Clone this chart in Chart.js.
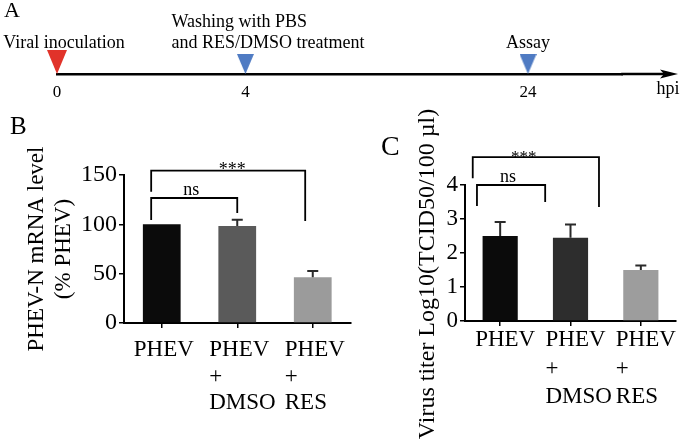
<!DOCTYPE html>
<html><head><meta charset="utf-8">
<script src="https://cdn.jsdelivr.net/npm/chart.js@4.4.0/dist/chart.umd.min.js"></script>
<style>
html,body{margin:0;padding:0;background:#fff;}
#wrap{position:relative;width:685px;height:443px;overflow:hidden;background:#fff;}
canvas{position:absolute;}
</style></head><body>
<div id="wrap">
<canvas id="cA" width="685" height="100" style="left:0;top:0;width:685px;height:100px"></canvas>
<canvas id="cB" width="360" height="343" style="left:0;top:100px;width:360px;height:343px"></canvas>
<canvas id="cC" width="325" height="343" style="left:360px;top:100px;width:325px;height:343px"></canvas>
</div>
<script>
const FONT = "'Liberation Serif','Times New Roman',serif";

// ---- Panel A: timeline ----
const timeLabels = ['0', '', '4', '', '', '24', ''];
const eventTimes = ['0', '4', '24'];
const eventNotes = [['Viral inoculation'], ['Washing with PBS', 'and RES/DMSO treatment'], ['Assay']];
const eventColors = ['#e1332a', '#4f7bc3', '#4f7bc3'];

// ---- Panel B: PHEV-N mRNA level ----
const categories = [['PHEV'], ['PHEV', '+', 'DMSO'], ['PHEV', '+', 'RES']];
const mrnaLevel = [100, 98.3, 46.4];
const mrnaError = [0, 6.3, 6.3];
const yTicksB = [0, 50, 100, 150];
const sigB = [
  {from: -0.14, to: 1.0, top: 126.7, leftEnd: 104.4, rightEnd: 111.5, label: 'ns', dx: -3},
  {from: -0.14, to: 1.9, top: 154.4, leftEnd: 133, rightEnd: 103.4, label: '***', dx: 4}
];

// ---- Panel C: virus titer ----
const titerLog = [2.5, 2.45, 1.5];
const titerError = [0.41, 0.39, 0.13];
const yTicksC = [0, 1, 2, 3, 4];
const sigC = [
  {from: -0.33, to: 0.64, top: 4.0, leftEnd: 3.38, rightEnd: 3.5, label: 'ns', dx: -3},
  {from: -0.39, to: 1.405, top: 4.82, leftEnd: 4.2, rightEnd: 3.35, label: '***', dx: -12}
];

function tri(color, w, h) {
  const c = document.createElement('canvas');
  c.width = w; c.height = 2 * h;
  const g = c.getContext('2d');
  g.fillStyle = color;
  g.beginPath(); g.moveTo(0, 0); g.lineTo(w, 0); g.lineTo(w / 2, h); g.closePath(); g.fill();
  return c;
}

const panelLabel = {
  id: 'panelLabel',
  afterDraw(chart, args, o) {
    const ctx = chart.ctx;
    ctx.save();
    ctx.font = o.font; ctx.fillStyle = '#000'; ctx.textAlign = 'left'; ctx.textBaseline = 'alphabetic';
    ctx.fillText(o.text, o.x, o.y);
    ctx.restore();
  }
};

const timeline = {
  id: 'timeline',
  afterDraw(chart, args, o) {
    const {ctx, chartArea} = chart;
    const y = chartArea.bottom;
    const tip = chart.width - 7;
    ctx.save();
    ctx.strokeStyle = '#000'; ctx.fillStyle = '#000'; ctx.lineWidth = 2.5;
    ctx.beginPath(); ctx.moveTo(chartArea.right - 1, y); ctx.lineTo(tip - 12, y); ctx.stroke();
    ctx.beginPath(); ctx.moveTo(tip, y); ctx.lineTo(tip - 18, y - 4.5); ctx.lineTo(tip - 14, y); ctx.lineTo(tip - 18, y + 4.5); ctx.closePath(); ctx.fill();
    ctx.font = o.font; ctx.textBaseline = 'middle'; ctx.textAlign = 'center';
    ctx.fillText('hpi', tip - 10, o.unitY);
    const meta = chart.getDatasetMeta(0);
    eventNotes.forEach((lines, i) => {
      const pt = meta.data[i];
      ctx.textAlign = o.align[i];
      const x = pt.x + o.dx[i];
      lines.forEach((ln, j) => {
        ctx.fillText(ln, x, o.noteY - (lines.length - 1 - j) * o.lineGap);
      });
    });
    ctx.restore();
  }
};

const errorBars = {
  id: 'errorBars',
  afterDatasetsDraw(chart, args, o) {
    const ctx = chart.ctx, ys = chart.scales.y;
    chart.data.datasets.forEach((ds, di) => {
      const meta = chart.getDatasetMeta(di);
      meta.data.forEach((bar, i) => {
        const e = (ds.errors || [])[i];
        if (!e) return;
        const yv = ys.getPixelForValue(ds.data[i]);
        const ye = ys.getPixelForValue(ds.data[i] + e);
        ctx.save();
        ctx.strokeStyle = o.color; ctx.lineWidth = o.width;
        ctx.beginPath();
        ctx.moveTo(bar.x, yv); ctx.lineTo(bar.x, ye);
        ctx.moveTo(bar.x - o.cap / 2, ye); ctx.lineTo(bar.x + o.cap / 2, ye);
        ctx.stroke();
        ctx.restore();
      });
    });
  }
};

const brackets = {
  id: 'brackets',
  afterDraw(chart, args, o) {
    const ctx = chart.ctx, xs = chart.scales.x, ys = chart.scales.y;
    (o.items || []).forEach(b => {
      const x1 = xs.getPixelForValue(b.from), x2 = xs.getPixelForValue(b.to);
      const yt = ys.getPixelForValue(b.top), y1 = ys.getPixelForValue(b.leftEnd), y2 = ys.getPixelForValue(b.rightEnd);
      ctx.save();
      ctx.strokeStyle = '#000'; ctx.lineWidth = o.lineWidth; ctx.lineJoin = 'miter';
      ctx.beginPath(); ctx.moveTo(x1, y1); ctx.lineTo(x1, yt); ctx.lineTo(x2, yt); ctx.lineTo(x2, y2); ctx.stroke();
      const star = b.label.charAt(0) === '*';
      ctx.font = star ? o.starFont : o.font;
      ctx.fillStyle = '#000'; ctx.textAlign = 'center'; ctx.textBaseline = 'alphabetic';
      ctx.fillText(b.label, (x1 + x2) / 2 + (b.dx || 0), yt + (star ? o.starDy : o.textDy));
      ctx.restore();
    });
  }
};

Chart.defaults.font.family = FONT;
Chart.defaults.color = '#000';

// Panel A
new Chart(document.getElementById('cA'), {
  type: 'scatter',
  data: {
    labels: timeLabels,
    datasets: [{
      data: eventTimes.map(t => ({x: t, y: 0})),
      pointStyle: [tri(eventColors[0], 20, 24), tri(eventColors[1], 17, 20), tri(eventColors[2], 17, 20)],
      pointRadius: 10,
      clip: false
    }]
  },
  options: {
    responsive: false, animation: false, events: [], devicePixelRatio: 1,
    layout: {padding: {left: 57, right: 62.8, top: 0, bottom: 0}},
    plugins: {
      legend: {display: false}, tooltip: {enabled: false},
      timeline: {font: '18px ' + FONT, unitY: 89, noteY: 43, lineGap: 21, align: ['center', 'left', 'center'], dx: [7, -74, 0]},
      panelLabel: {text: 'A', x: 4, y: 17, font: '22px ' + FONT}
    },
    scales: {
      x: {
        type: 'category', offset: false,
        grid: {display: false, drawTicks: false},
        border: {display: true, color: '#000', width: 2.5},
        ticks: {font: {size: 17}, color: '#000', padding: 8, maxRotation: 0, autoSkip: false},
        afterFit(s) { s.height = 26; s.paddingLeft = 0; s.paddingRight = 0; }
      },
      y: {display: false, min: 0, max: 1}
    }
  },
  plugins: [timeline, panelLabel]
});

function barChart(id, values, errors, colors, yTicks, title, opts) {
  return new Chart(document.getElementById(id), {
    type: 'bar',
    data: {
      labels: categories,
      datasets: [{data: values, errors: errors, backgroundColor: colors, borderWidth: 0, categoryPercentage: 1, barPercentage: 0.5}]
    },
    options: {
      responsive: false, animation: false, events: [], devicePixelRatio: 1,
      layout: {padding: {top: opts.top, right: opts.right, left: 0, bottom: 0}},
      plugins: {
        legend: {display: false}, tooltip: {enabled: false},
        errorBars: {color: '#2a2a2a', width: 2, cap: 11},
        brackets: {items: opts.sig, lineWidth: 1.8, font: '18px ' + FONT, starFont: opts.starFont, textDy: -3, starDy: opts.starDy},
        panelLabel: opts.panel
      },
      scales: {
        x: {
          grid: {drawOnChartArea: false, offset: false, tickLength: 5, color: '#000', lineWidth: 1.5},
          border: {color: '#000', width: 2},
          ticks: {font: {size: 23, lineHeight: opts.xLine}, color: '#000', align: 'start', labelOffset: opts.labelOffset, padding: opts.xPad, maxRotation: 0, autoSkip: false},
          afterFit(s) { s.height = opts.xHeight; s.paddingLeft = 0; s.paddingRight = 0; }
        },
        y: {
          min: yTicks[0], max: yTicks[yTicks.length - 1],
          ticks: {stepSize: yTicks[1] - yTicks[0], font: {size: opts.yTickSize}, color: '#000', padding: 2},
          grid: {drawOnChartArea: false, tickLength: 5, color: '#000', lineWidth: 1.5},
          border: {color: '#000', width: 2},
          title: {display: true, text: title, color: '#000', font: {size: opts.titleSize, lineHeight: 1.2}, padding: {top: opts.titlePad, bottom: 0}},
          afterFit(s) { s.width = opts.yWidth; s.paddingTop = 0; s.paddingBottom = 0; }
        }
      }
    },
    plugins: [errorBars, brackets, panelLabel]
  });
}

barChart('cB', mrnaLevel, mrnaError, ['#0b0b0b', '#5a5a5a', '#9b9b9b'], yTicksB,
  ['PHEV-N mRNA level', '(% PHEV)'],
  {top: 75, right: 9.5, xHeight: 120, yWidth: 124, labelOffset: -28, xPad: 9, xLine: 1.15,
   yTickSize: 24, titleSize: 23, titlePad: 23, sig: sigB, starFont: '18px ' + FONT, starDy: 4,
   panel: {text: 'B', x: 10, y: 34, font: '25px ' + FONT}});

barChart('cC', titerLog, titerError, ['#0b0b0b', '#2d2d2d', '#9d9d9d'], yTicksC,
  'Virus titer Log10(TCID50/100 µl)       ',
  {top: 85, right: 9, xHeight: 122, yWidth: 105, labelOffset: -25, xPad: 0, xLine: 1.24,
   yTickSize: 23, titleSize: 24, titlePad: 53.6, sig: sigC, starFont: '17px ' + FONT, starDy: 5,
   panel: {text: 'C', x: 21, y: 55, font: '28px ' + FONT}});
</script>
</body></html>
